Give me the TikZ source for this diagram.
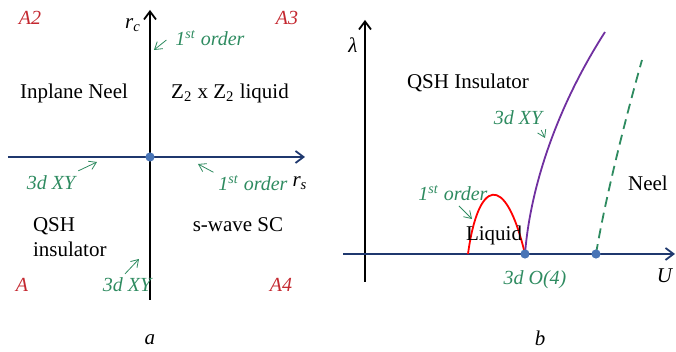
\documentclass[tikz,border=0pt]{standalone}
\usepackage{fontspec}
\setmainfont{Liberation Serif}
\usetikzlibrary{arrows.meta}
\definecolor{axisblue}{RGB}{31,56,110}
\definecolor{dotblue}{RGB}{72,116,182}
\definecolor{notegreen}{RGB}{46,139,96}
\definecolor{areared}{RGB}{196,40,48}
\definecolor{xypurple}{RGB}{112,48,160}
\tikzset{note/.style={text=notegreen,font=\itshape},area/.style={text=areared,font=\itshape},
  crit/.style={circle,fill=dotblue,inner sep=0pt,minimum size=4.6pt},
  pointer/.style={-{Straight Barb[length=3.5pt,width=4.5pt]},notegreen,line width=0.4pt},
  axis/.style={-{Straight Barb[length=4pt,width=6pt]},line width=0.9pt}}
\begin{document}
\begin{tikzpicture}[x=0.5pt,y=0.5pt,font=\fontsize{10.5}{12.5}\selectfont]
\useasboundingbox (-150,-195) rectangle (526,157);
% panel a
\begin{scope}
\draw[axis] (0,-143)--(0,147);\draw[axis,axisblue] (-142,0)--(155,0);\node[crit] (oa) at (0,0) {};
\node[area] (a2) at (-120,139) {A2};\node[area] (a3) at (137,139) {A3};\node[area] (a1) at (-128,-128) {A};\node[area] (a4) at (131,-128) {A4};
\node (rc) at (-17,132) {\textit{r\textsubscript{c}}};\node (rs) at (150,-26) {\textit{r\textsubscript{s}}};
\node (neel) at (-76,64) {Inplane Neel};\node (zz) at (80,64) {Z\textsubscript{2} x Z\textsubscript{2} liquid};
\node[align=left,anchor=west] (qsh) at (-124,-80) {QSH\\insulator};\node (swave) at (88,-68) {s-wave SC};
\node[note] (ordtop) at (60,119) {1\textsuperscript{st} order};\coordinate (ordtopend) at (4,107);\draw[pointer] (ordtop.west)++(-2,-2) -- (ordtopend);
\node[note] (xyleft) at (-99,-26) {3d XY};\coordinate (xyleftend) at (-53,-5);\draw[pointer] (xyleft.north east)++(-4,-2) -- (xyleftend);
\node[note] (ordright) at (103,-26) {1\textsuperscript{st} order};\coordinate (ordrightend) at (48,-7);\draw[pointer] (ordright.north west)++(2,-4) -- (ordrightend);
\node[note] (xybot) at (-23,-128) {3d XY};\coordinate (xybotend) at (-11,-102);\draw[pointer] (xybot.north)++(-2,-3) -- (xybotend);
\node (capa) at (0,-183) {\itshape a};
\end{scope}
% panel b
\begin{scope}[shift={(215,-97)}]
\draw[axis] (0,-28)--(0,234);\draw[axis,axisblue] (-22,0)--(310,0);
\draw[red,line width=0.9pt] (103,0) .. controls (113,74) and (140,84) .. (160,0);
\draw[xypurple,line width=0.9pt] (160,0) .. controls (165,64) and (190,144) .. (240,222);
\draw[notegreen,line width=0.9pt,dash pattern=on 5pt off 3pt] (231,0) .. controls (240,54) and (260,134) .. (277,194);
\node[crit] (o4) at (160,0) {};\node[crit] (nb) at (231,0) {};
\node (lam) at (-12,209) {\textit{λ}};\node (uu) at (300,-22) {\textit{U}};
\node (qshb) at (103,171) {QSH Insulator};\node (liq) at (129,19) {Liquid};\node (neelb) at (283,71) {Neel};
\node[note] (ordb) at (88,61) {1\textsuperscript{st} order};\coordinate (ordbend) at (107,35);\draw[pointer] (94,48) -- (ordbend);
\node[note] (xyb) at (153,136) {3d XY};\coordinate (xybend) at (180,116);\draw[pointer] (xyb.south east)++(-8,2) -- (xybend);
\node[note] (o4lab) at (170,-26) {3d O(4)};
\node (capb) at (175,-84) {\itshape b};
\end{scope}
\end{tikzpicture}
\end{document}
